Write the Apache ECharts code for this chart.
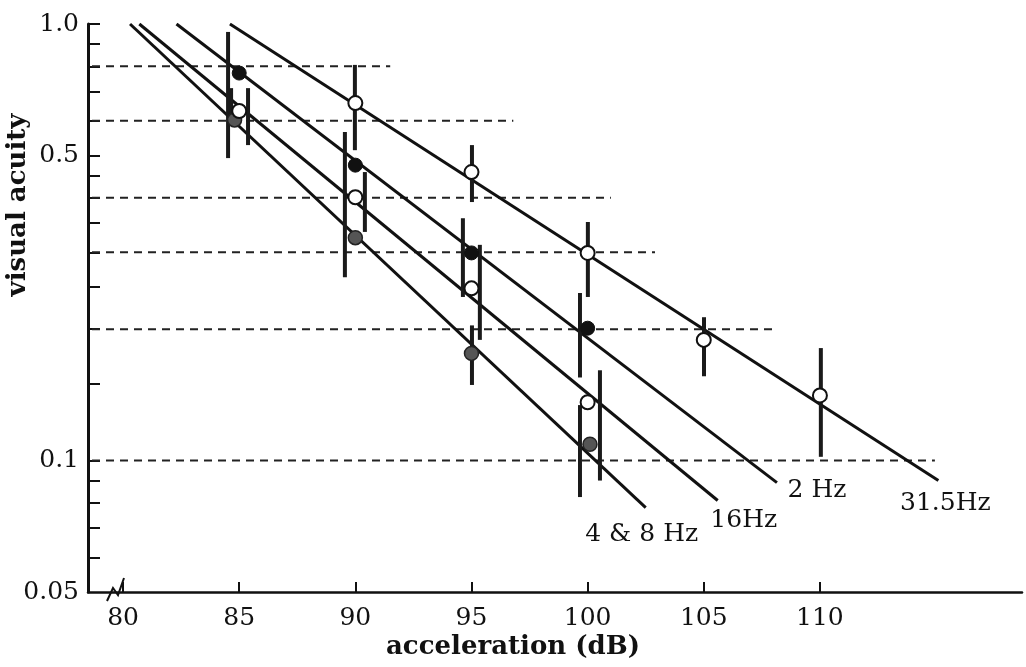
<!DOCTYPE html>
<html>
<head>
<meta charset="utf-8">
<title>visual acuity vs acceleration</title>
<style>
  html, body { margin: 0; height: 100%; background: #fff; }
  #chart { width: 1026px; height: 667px; }
</style>
</head>
<body>
<div id="chart"></div>
<script src="https://cdn.jsdelivr.net/npm/echarts@6/dist/echarts.min.js"></script>
<script>
// axis ticks
var xTicks = [80, 85, 90, 95, 100, 105, 110];
var yLabels = [1.0, 0.5, 0.1, 0.05];
var yTicks = [1, 0.9, 0.8, 0.7, 0.6, 0.5, 0.45, 0.4, 0.35, 0.3, 0.25, 0.2, 0.15, 0.1, 0.09, 0.08, 0.07, 0.06];

// measured points [dB, visual acuity]
var pts315 = [[90, 0.659], [95, 0.458], [100, 0.299], [105, 0.189], [110, 0.141]];
var pts2 = [[85, 0.772], [90, 0.475], [95, 0.299], [100, 0.201]];
var pts16 = [[85, 0.632], [90, 0.401], [95, 0.248], [100, 0.136]];
var pts48 = [[84.8, 0.603], [90, 0.324], [95, 0.176], [100.1, 0.109]];

// fitted lines (start, end)
var fit315 = [[84.6, 1.0], [115.1, 0.090]];
var fit2 = [[82.3, 1.0], [108.15, 0.089]];
var fit16 = [[80.7, 1.0], [105.6, 0.081]];
var fit48 = [[80.3, 1.0], [102.5, 0.078]];

// error bars [dB, low, high]
var errBars = [
  [84.52, 0.493, 0.959], [84.65, 0.603, 0.713], [85.38, 0.528, 0.713],
  [89.98, 0.514, 0.806], [89.55, 0.263, 0.566], [90.41, 0.334, 0.458],
  [95.02, 0.391, 0.528], [94.63, 0.237, 0.359], [95.36, 0.189, 0.312], [95.02, 0.149, 0.204],
  [100.01, 0.237, 0.352], [99.67, 0.155, 0.242], [100.53, 0.090, 0.161], [99.67, 0.0825, 0.134],
  [105.01, 0.156, 0.213], [110.04, 0.102, 0.181]
];

// dashed reference levels and where each one stops (dB)
var refLevels = [0.8, 0.6, 0.4, 0.3, 0.2, 0.1];
var refEnds = [91.5, 96.8, 101.0, 102.9, 108.0, 114.95];

var xMin = 78.49, xMax = 118.7;
var ink = '#111';
var serif = '"DejaVu Serif", "Liberation Serif", serif';

var refData = refLevels.map(function (v, i) { return [refEnds[i], v]; });

function fitLine(fit) {
  return {
    type: 'line', data: fit, symbol: 'none', silent: true, z: 2,
    lineStyle: { color: ink, width: 3 }
  };
}
function dots(pts, style) {
  style.opacity = 1;
  return {
    type: 'scatter', data: pts, symbol: 'circle', symbolSize: 14, z: 6,
    itemStyle: style
  };
}
function endLabel(fit, text, offset) {
  return {
    type: 'scatter', data: [fit[1]], symbolSize: 1, z: 7, silent: true,
    itemStyle: { color: 'rgba(0,0,0,0)', opacity: 1 },
    label: {
      show: true, position: 'inside', offset: offset, opacity: 1,
      textBorderWidth: 0, formatter: text, color: ink, fontFamily: serif, fontSize: 25
    }
  };
}

var openStyle = { color: '#fff', borderColor: ink, borderWidth: 2 };
var blackStyle = { color: ink, borderColor: ink, borderWidth: 1 };
var greyStyle = { color: '#555', borderColor: '#222', borderWidth: 1.5 };

var chart = echarts.init(document.getElementById('chart'));
var option = {
  animation: false,
  backgroundColor: '#fff',
  grid: { left: 88, right: 4, top: 24, bottom: 75 },
  xAxis: {
    type: 'value', min: xMin, max: xMax,
    axisLine: { lineStyle: { color: ink, width: 2.5 } },
    axisTick: { customValues: xTicks, inside: true, length: 10, lineStyle: { color: ink, width: 2 } },
    axisLabel: { customValues: xTicks, color: ink, fontFamily: serif, fontSize: 25, margin: 14 },
    splitLine: { show: false }
  },
  yAxis: {
    type: 'log', logBase: 10, min: 0.05, max: 1,
    axisLine: { show: true, lineStyle: { color: ink, width: 3 } },
    axisTick: { customValues: yTicks, inside: true, length: 12, lineStyle: { color: ink, width: 2 } },
    axisLabel: {
      customValues: yLabels, color: ink, fontFamily: serif, fontSize: 25, margin: 9,
      formatter: function (v) { return v === 1 ? '1.0' : String(v); }
    },
    splitLine: { show: false }
  },
  graphic: [
    {
      type: 'text', x: 18, y: 205, rotation: Math.PI / 2,
      style: { text: 'visual acuity', fill: ink, fontFamily: serif, fontWeight: 'bold', fontSize: 26, align: 'center', verticalAlign: 'middle' }
    },
    {
      type: 'text', x: 513, y: 647,
      style: { text: 'acceleration (dB)', fill: ink, fontFamily: serif, fontWeight: 'bold', fontSize: 26, align: 'center', verticalAlign: 'middle' }
    },
    {
      type: 'polyline',
      shape: { points: [[107, 601], [113, 588], [118, 595], [124, 578]] },
      style: { stroke: ink, lineWidth: 2, fill: null }
    }
  ],
  series: [
    {
      type: 'custom', data: refData, z: 1, silent: true,
      encode: { x: 0, y: 1 },
      renderItem: function (params, api) {
        var a = api.coord([xMin, api.value(1)]);
        var b = api.coord([api.value(0), api.value(1)]);
        return {
          type: 'line',
          shape: { x1: a[0] + 4, y1: a[1], x2: b[0], y2: b[1] },
          style: { stroke: '#222', lineWidth: 2, lineDash: [8, 6] }
        };
      }
    },
    fitLine(fit315), fitLine(fit2), fitLine(fit16), fitLine(fit48),
    {
      type: 'custom', data: errBars, z: 4, silent: true,
      encode: { x: 0, y: [1, 2] },
      renderItem: function (params, api) {
        var lo = api.coord([api.value(0), api.value(1)]);
        var hi = api.coord([api.value(0), api.value(2)]);
        return {
          type: 'line',
          shape: { x1: lo[0], y1: lo[1], x2: hi[0], y2: hi[1] },
          style: { stroke: '#1a1a1a', lineWidth: 4 }
        };
      }
    },
    dots(pts48, greyStyle),
    dots(pts16, openStyle),
    dots(pts2, blackStyle),
    dots(pts315, openStyle),
    endLabel(fit315, '31.5Hz', [7, 23]),
    endLabel(fit2, '2 Hz', [40, 8]),
    endLabel(fit16, '16Hz', [26, 20]),
    endLabel(fit48, '4 & 8 Hz', [-4, 27])
  ]
};
chart.setOption(option);
</script>
</body>
</html>
